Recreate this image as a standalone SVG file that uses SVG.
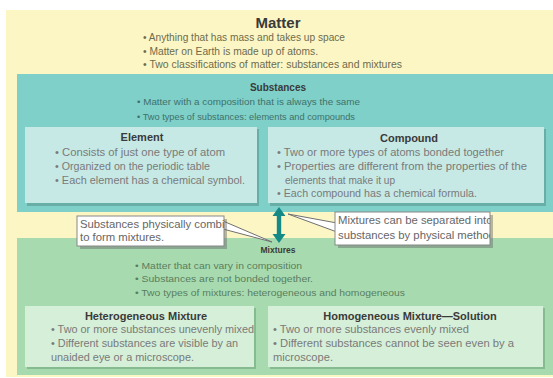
<svg xmlns="http://www.w3.org/2000/svg" width="553" height="378" viewBox="0 0 553 378">
<style>
text{font-family:"Liberation Sans","Noto Sans",sans-serif;}
.t{font-weight:bold;fill:#3a3a3a;text-anchor:middle;}
.m{font-size:10.5px;fill:#6e6b4c;}
.s{font-size:9px;fill:#41706b;}
.x{font-size:9px;fill:#5b7d60;}
.c{font-size:11px;fill:#7a7a7a;}
.k{font-size:11.3px;fill:#666;}
.sh1{fill:#5f9f99;opacity:0.7;}
.sh2{fill:#78ad82;opacity:0.7;}
.box1{fill:#c6e9e5;}
.box2{fill:#d5efd8;}
.line{fill:#ffffff;stroke:#707070;stroke-width:1;}
</style>
<defs>
<clipPath id="cl"><rect x="78" y="217" width="146" height="29"/></clipPath>
<clipPath id="cr"><rect x="336" y="213" width="154" height="32"/></clipPath>
</defs>
<rect width="553" height="378" fill="#ffffff"/>
<g id="matter">
<rect x="6" y="10" width="547" height="367" fill="#fcf6c4"/>
<text class="t" x="278" y="28" font-size="15">Matter</text>
<text class="m" x="143" y="41" textLength="202" lengthAdjust="spacingAndGlyphs">• Anything that has mass and takes up space</text>
<text class="m" x="143" y="54.5" textLength="175" lengthAdjust="spacingAndGlyphs">• Matter on Earth is made up of atoms.</text>
<text class="m" x="143" y="68" textLength="259" lengthAdjust="spacingAndGlyphs">• Two classifications of matter: substances and mixtures</text>
</g>
<g id="substances">
<rect x="17" y="74" width="536" height="138" fill="#7ed0c9"/>
<text class="t" x="278" y="91" font-size="10">Substances</text>
<text class="s" x="137" y="105" textLength="223" lengthAdjust="spacingAndGlyphs">• Matter with a composition that is always the same</text>
<text class="s" x="137" y="120" textLength="218" lengthAdjust="spacingAndGlyphs">• Two types of substances: elements and compounds</text>
</g>
<g id="element">
<rect x="27" y="129" width="232" height="77" class="sh1"/>
<rect x="25" y="127" width="232" height="76" class="box1"/>
<text class="t" x="142" y="141" font-size="11">Element</text>
<text class="c" x="55" y="156" textLength="170" lengthAdjust="spacingAndGlyphs">• Consists of just one type of atom</text>
<text class="c" x="55" y="170" textLength="155" lengthAdjust="spacingAndGlyphs">• Organized on the periodic table</text>
<text class="c" x="55" y="184" textLength="190" lengthAdjust="spacingAndGlyphs">• Each element has a chemical symbol.</text>
</g>
<g id="compound">
<rect x="270" y="129" width="276" height="77" class="sh1"/>
<rect x="268" y="127" width="276" height="76" class="box1"/>
<text class="t" x="409" y="142" font-size="11">Compound</text>
<text class="c" x="277" y="156" textLength="227" lengthAdjust="spacingAndGlyphs">• Two or more types of atoms bonded together</text>
<text class="c" x="277" y="170" textLength="250" lengthAdjust="spacingAndGlyphs">• Properties are different from the properties of the</text>
<text class="c" x="285" y="184" textLength="110" lengthAdjust="spacingAndGlyphs">elements that make it up</text>
<text class="c" x="277" y="197" textLength="200" lengthAdjust="spacingAndGlyphs">• Each compound has a chemical formula.</text>
</g>
<g id="mixtures">
<rect x="17" y="238" width="536" height="137" fill="#a7dbaf"/>
<text class="t" x="278" y="253" font-size="8.5">Mixtures</text>
<text class="x" x="135" y="269" textLength="167" lengthAdjust="spacingAndGlyphs">• Matter that can vary in composition</text>
<text class="x" x="135" y="282" textLength="178" lengthAdjust="spacingAndGlyphs">• Substances are not bonded together.</text>
<text class="x" x="135" y="296" textLength="270" lengthAdjust="spacingAndGlyphs">• Two types of mixtures: heterogeneous and homogeneous</text>
</g>
<g id="heterogeneous">
<rect x="27" y="308" width="229" height="61" class="sh2"/>
<rect x="25" y="306" width="229" height="61" class="box2"/>
<text class="t" x="146" y="320" font-size="11">Heterogeneous Mixture</text>
<text class="c" x="51" y="333" textLength="203" lengthAdjust="spacingAndGlyphs">• Two or more substances unevenly mixed</text>
<text class="c" x="51" y="347" textLength="187" lengthAdjust="spacingAndGlyphs">• Different substances are visible by an</text>
<text class="c" x="51" y="361" textLength="143" lengthAdjust="spacingAndGlyphs">unaided eye or a microscope.</text>
</g>
<g id="homogeneous">
<rect x="270" y="308" width="275" height="61" class="sh2"/>
<rect x="268" y="306" width="275" height="61" class="box2"/>
<text class="t" x="410" y="320" font-size="11">Homogeneous Mixture—Solution</text>
<text class="c" x="273" y="333" textLength="196" lengthAdjust="spacingAndGlyphs">• Two or more substances evenly mixed</text>
<text class="c" x="273" y="347" textLength="241" lengthAdjust="spacingAndGlyphs">• Different substances cannot be seen even by a</text>
<text class="c" x="273" y="361" textLength="60" lengthAdjust="spacingAndGlyphs">microscope.</text>
</g>
<g id="connectors">
<path d="M279,207 L272.5,216 L276.8,216 L276.8,234 L272.5,234 L279,243 L285.5,234 L281.2,234 L281.2,216 L285.5,216 Z" fill="#148a86"/>
<path d="M223,221 L272,242 L223,229 Z" class="line"/>
<path d="M337,223 L288,214 L337,232 Z" class="line"/>
</g>
<g id="callout-left">
<rect x="80" y="219" width="147" height="30" fill="#666" opacity="0.45"/>
<rect x="77" y="216" width="147" height="30" fill="#fff" stroke="#888" stroke-width="1"/>
<g clip-path="url(#cl)">
<text class="k" x="80" y="228">Substances physically combine</text>
<text class="k" x="80" y="241">to form mixtures.</text>
</g>
</g>
<g id="callout-right">
<rect x="338" y="215" width="155" height="33" fill="#666" opacity="0.45"/>
<rect x="335" y="212" width="155" height="33" fill="#fff" stroke="#888" stroke-width="1"/>
<g clip-path="url(#cr)">
<text class="k" x="338" y="224">Mixtures can be separated into</text>
<text class="k" x="338" y="239">substances by physical methods.</text>
</g>
</g>
</svg>
